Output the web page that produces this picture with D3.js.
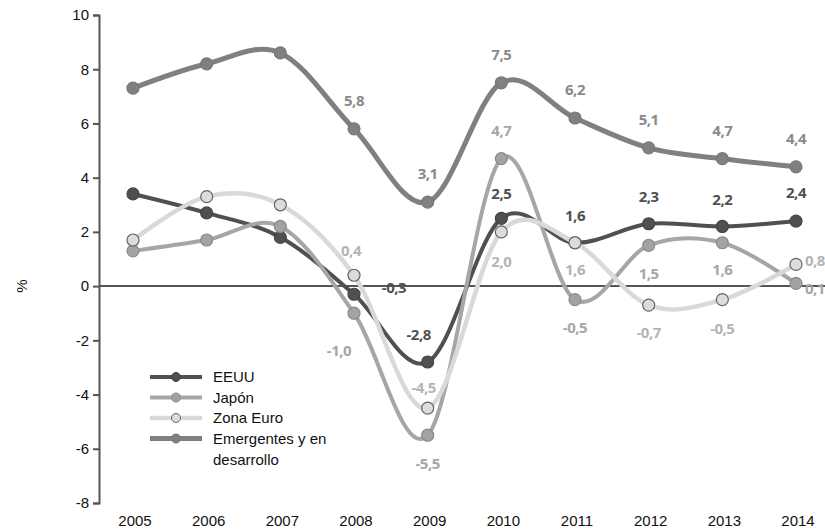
<!DOCTYPE html>
<html>
<head>
<meta charset="utf-8">
<script src="https://cdn.jsdelivr.net/npm/d3@7"></script>
<style>
  body { margin: 0; background: #fff; }
  svg { display: block; }
</style>
</head>
<body>
<svg width="825" height="531"></svg>
<script>
// data
var years = [2005, 2006, 2007, 2008, 2009, 2010, 2011, 2012, 2013, 2014];
var eeuu =       [3.4, 2.7, 1.8, -0.3, -2.8, 2.5, 1.6, 2.3, 2.2, 2.4];
var japon =      [1.3, 1.7, 2.2, -1.0, -5.5, 4.7, -0.5, 1.5, 1.6, 0.1];
var zonaEuro =   [1.7, 3.3, 3.0, 0.4, -4.5, 2.0, 1.6, -0.7, -0.5, 0.8];
var emergentes = [7.3, 8.2, 8.6, 5.8, 3.1, 7.5, 6.2, 5.1, 4.7, 4.4];
var yTicks = [-8, -6, -4, -2, 0, 2, 4, 6, 8, 10];
var seriesNames = ["EEUU", "Japón", "Zona Euro", "Emergentes y en desarrollo"];

var svg = d3.select("svg");

var x = d3.scalePoint()
    .domain(years)
    .range([133, 796]);

var y = d3.scaleLinear()
    .domain([-8, 10])
    .range([503, 15]);

// comma decimals, plain hyphen for negatives
var fmt = function(v) { return v.toFixed(1).replace(".", ","); };

// label placement per series: [dx, dy, anchor] by year index (null = no label)
var series = [
  {name: seriesNames[3], values: emergentes, line: "#808080", width: 5, fill: "#808080", stroke: "#777", label: "#8a8a8a",
   pos: [null, null, null, [0,-28], [0,-28], [0,-28], [0,-28], [0,-28], [0,-28], [0,-28]]},
  {name: seriesNames[0], values: eeuu, line: "#505050", width: 4, fill: "#505050", stroke: "#444", label: "#505050",
   pos: [null, null, null, [40,-6], [-9,-27], [0,-25], [0,-27], [0,-27], [0,-27], [0,-28]]},
  {name: seriesNames[1], values: japon, line: "#a6a6a6", width: 4, fill: "#a3a3a3", stroke: "#8a8a8a", label: "#a6a6a6",
   pos: [null, null, null, [-15,38], [0,29], [0,-28], [0,28], [0,28], [0,27], [9,5,"start"]]},
  {name: seriesNames[2], values: zonaEuro, line: "#d9d9d9", width: 4.5, fill: "#dcdcdc", stroke: "#666", label: "#b4b4b4",
   pos: [null, null, null, [-3,-25], [-4,-20], [0,30], [0,27], [0,28], [0,29], [9,-4,"start"]]}
];

// y axis
var yAxis = svg.append("g")
    .attr("transform", "translate(99,0)")
    .call(d3.axisLeft(y).tickValues(yTicks).tickFormat(function(d) { return String(d); })
      .tickSize(6).tickSizeOuter(6));
yAxis.select(".domain").attr("stroke", "#555").attr("stroke-width", 2);
yAxis.selectAll(".tick line").attr("stroke", "#555").attr("stroke-width", 2);
yAxis.selectAll(".tick text")
    .attr("x", -10)
    .attr("fill", "#111")
    .style("font-family", "Liberation Sans, Arial, sans-serif")
    .style("font-size", "15px");

svg.append("text")
    .attr("transform", "translate(22," + y(0) + ") rotate(-90)")
    .attr("text-anchor", "middle")
    .attr("dy", "0.35em")
    .style("font-family", "Liberation Sans, Arial, sans-serif")
    .style("font-size", "15px")
    .attr("fill", "#111")
    .text("%");

// zero line
svg.append("line")
    .attr("x1", 99).attr("x2", 825)
    .attr("y1", y(0)).attr("y2", y(0))
    .attr("stroke", "#555")
    .attr("stroke-width", 2);

// year labels
svg.append("g").selectAll("text")
  .data(years)
  .enter().append("text")
    .attr("x", function(d) { return x(d) + 2; })
    .attr("y", 526)
    .attr("text-anchor", "middle")
    .style("font-family", "Liberation Sans, Arial, sans-serif")
    .style("font-size", "15px")
    .attr("fill", "#111")
    .text(function(d) { return d; });

var line = d3.line()
    .x(function(d, i) { return x(years[i]); })
    .y(function(d) { return y(d); })
    .curve(d3.curveCardinal.tension(0));

series.forEach(function(s) {
  svg.append("path")
      .attr("d", line(s.values))
      .attr("fill", "none")
      .attr("stroke", s.line)
      .attr("stroke-width", s.width)
      .attr("stroke-linecap", "round");

  svg.append("g").selectAll("circle")
    .data(s.values)
    .enter().append("circle")
      .attr("cx", function(d, i) { return x(years[i]); })
      .attr("cy", function(d) { return y(d); })
      .attr("r", 6)
      .attr("fill", s.fill)
      .attr("stroke", s.stroke)
      .attr("stroke-width", 1.2);
});

// value labels on top
series.forEach(function(s) {
  svg.append("g").selectAll("text")
    .data(s.values.map(function(v, i) { return {v: v, i: i, p: s.pos[i]}; })
      .filter(function(d) { return d.p; }))
    .enter().append("text")
      .attr("x", function(d) { return x(years[d.i]) + d.p[0]; })
      .attr("y", function(d) { return y(d.v) + d.p[1]; })
      .attr("dy", "0.35em")
      .attr("text-anchor", function(d) { return d.p[2] || "middle"; })
      .style("font-family", "Open Sans, sans-serif")
      .style("font-weight", "bold")
      .style("font-size", "15px")
      .style("letter-spacing", "-0.5px")
      .attr("fill", s.label)
      .text(function(d) { return fmt(d.v); });
});

// legend
var legend = svg.append("g").attr("transform", "translate(150,377)");
var legendOrder = [series[1], series[2], series[3], series[0]];
legendOrder.forEach(function(s, i) {
  var g = legend.append("g").attr("transform", "translate(0," + (i * 20.5) + ")");
  g.append("line")
      .attr("x1", 0).attr("x2", 52)
      .attr("stroke", s.line)
      .attr("stroke-width", s.width);
  g.append("circle")
      .attr("cx", 26).attr("r", 4.5)
      .attr("fill", s.fill)
      .attr("stroke", s.stroke)
      .attr("stroke-width", 1);
  var t = g.append("text")
      .attr("x", 63)
      .attr("dy", "0.35em")
      .style("font-family", "Liberation Sans, Arial, sans-serif")
      .style("font-size", "15px")
      .attr("fill", "#111");
  if (s.name === seriesNames[3]) {
    t.text("Emergentes y en");
    g.append("text")
        .attr("x", 63).attr("y", 21)
        .attr("dy", "0.35em")
        .style("font-family", "Liberation Sans, Arial, sans-serif")
        .style("font-size", "15px")
        .attr("fill", "#111")
        .text("desarrollo");
  } else {
    t.text(s.name);
  }
});
</script>
</body>
</html>
